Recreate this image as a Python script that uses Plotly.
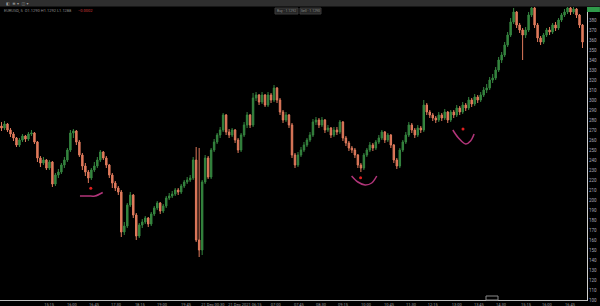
import plotly.graph_objects as go

# ---- data ----
closes = [272, 276, 270, 266, 262, 255, 260, 264, 261, 266, 267, 258, 242, 237, 240, 232, 238, 216, 225, 228,
          235, 240, 250, 267, 269, 258, 245, 234, 228, 222, 230, 234, 240, 248, 242, 235, 225, 217, 212, 208,
          168, 174, 195, 205, 185, 164, 175, 178, 182, 176, 186, 192, 197, 189, 194, 202, 204, 206, 210, 208,
          214, 218, 220, 222, 240, 160, 150, 218, 242, 223, 250, 258, 265, 270, 285, 268, 265, 270, 260, 250,
          265, 275, 285, 275, 302, 305, 298, 305, 295, 305, 300, 312, 300, 288, 280, 285, 275, 245, 235, 245,
          250, 255, 260, 265, 278, 280, 275, 280, 270, 272, 265, 270, 268, 278, 262, 257, 252, 250, 245, 235,
          232, 245, 250, 255, 252, 258, 262, 268, 260, 265, 255, 240, 234, 250, 258, 265, 275, 270, 265, 272,
          270, 295, 288, 285, 282, 280, 285, 282, 288, 280, 288, 285, 292, 288, 295, 292, 300, 296, 303, 300,
          305, 310, 312, 320, 322, 330, 340, 345, 355, 365, 378, 388, 375, 370, 365, 370, 385, 392, 375, 362,
          358, 365, 370, 368, 375, 372, 380, 385, 388, 392, 388, 391, 385, 375, 358]
first_open = 274
highs = [278, 279, 277, 272, 268, 263, 262, 266, 265, 268, 270, 268, 259, 244, 243, 241, 240, 239, 227, 231,
         237, 243, 252, 270, 271, 270, 260, 247, 237, 230, 232, 238, 243, 250, 249, 244, 236, 227, 219, 214,
         210, 178, 197, 208, 206, 187, 177, 181, 184, 183, 188, 194, 199, 198, 196, 204, 207, 209, 212, 212,
         216, 220, 223, 225, 243, 253, 252, 220, 245, 244, 252, 261, 267, 273, 287, 286, 271, 272, 271, 262,
         267, 278, 288, 286, 307, 308, 306, 308, 306, 308, 307, 315, 313, 302, 290, 288, 286, 277, 247, 248,
         253, 258, 262, 268, 281, 283, 282, 283, 281, 275, 273, 273, 273, 280, 279, 264, 259, 254, 252, 246,
         237, 247, 252, 258, 257, 260, 265, 270, 269, 267, 266, 256, 242, 252, 260, 268, 278, 277, 272, 275,
         274, 300, 297, 290, 287, 284, 288, 287, 291, 289, 290, 290, 295, 294, 298, 297, 303, 302, 306, 305,
         308, 313, 316, 323, 326, 333, 343, 348, 358, 368, 382, 392, 389, 377, 372, 373, 388, 396, 393, 377,
         364, 367, 372, 373, 377, 378, 382, 387, 391, 395, 394, 394, 392, 386, 376]
lows = [269, 270, 268, 263, 259, 253, 253, 258, 258, 259, 264, 256, 238, 233, 235, 230, 230, 213, 214, 222,
        226, 232, 238, 248, 262, 255, 243, 230, 224, 217, 220, 228, 232, 238, 240, 232, 222, 212, 209, 205,
        163, 165, 172, 193, 182, 160, 162, 172, 176, 173, 174, 184, 190, 186, 187, 192, 200, 202, 204, 205,
        206, 212, 216, 218, 220, 158, 143, 145, 216, 221, 221, 248, 256, 262, 268, 265, 262, 263, 257, 247,
        248, 263, 272, 272, 273, 299, 295, 296, 293, 293, 297, 298, 297, 285, 277, 278, 272, 242, 232, 233,
        243, 248, 253, 258, 263, 275, 272, 273, 267, 268, 262, 263, 265, 266, 259, 254, 249, 247, 242, 232,
        228, 230, 243, 248, 249, 250, 256, 260, 257, 258, 252, 237, 231, 232, 248, 256, 263, 267, 262, 263,
        267, 268, 285, 282, 279, 277, 278, 279, 280, 277, 278, 282, 283, 285, 286, 289, 290, 293, 294, 297,
        298, 303, 307, 310, 317, 320, 328, 337, 343, 353, 363, 376, 372, 367, 340, 362, 368, 383, 372, 358,
        355, 356, 363, 365, 366, 369, 370, 378, 383, 386, 385, 386, 382, 372, 352]

x_tick_idx = [4.5, 15.9, 23.5, 30.9, 38.2, 46.2, 53.6, 61.6, 70.6, 81.3, 91.6, 99.3,
              106.7, 114, 121.7, 129.4, 136.7, 144, 152, 159.4, 166.8, 175.1, 182.1, 189.8]
x_tick_text = ["20 Dec 2021 14:30", "15:15", "16:00", "16:45", "17:30", "18:15", "19:00", "19:45",
               "21 Dec 00:30", "21 Dec 2021 06:15", "07:00", "07:45", "08:30", "09:15", "10:00",
               "10:45", "11:30", "12:15", "13:00", "13:45", "14:30", "15:15", "16:00", "16:45"]

# hand-drawn marks on the chart (index, price)
curve1_x = [26.2, 29.0, 31.2, 33.8]
curve1_y = [204, 204, 204, 207.5]
curve2_x = [116.9, 119.0, 121.4, 123.6, 125.3]
curve2_y = [224, 218, 215, 217, 224]
curve3_x = [150.7, 152.6, 155.0, 156.6, 157.8]
curve3_y = [270, 262, 256, 259, 266]
dots_x = [29.8, 119.9, 154.1]
dots_y = [211.7, 222.3, 271]

opens = [first_open] + closes[:-1]
idx = list(range(len(closes)))

fig = go.Figure()
fig.add_trace(go.Candlestick(
    x=idx, open=opens, high=highs, low=lows, close=closes,
    increasing=dict(line=dict(color="#35853f", width=1), fillcolor="#35853f"),
    decreasing=dict(line=dict(color="#e07a5c", width=1), fillcolor="#e07a5c"),
    whiskerwidth=0, showlegend=False, hoverinfo="skip"))

for cx, cy in [(curve1_x, curve1_y), (curve2_x, curve2_y), (curve3_x, curve3_y)]:
    fig.add_trace(go.Scatter(x=cx, y=cy, mode="lines",
                             line=dict(color="#b2357a", width=1.5, shape="spline"),
                             showlegend=False, hoverinfo="skip"))
fig.add_trace(go.Scatter(x=dots_x, y=dots_y, mode="markers",
                         marker=dict(color="#e02020", size=3), showlegend=False, hoverinfo="skip"))

PH = 293.0  # plot height in px
PW = 587.0

shapes = [
    # top toolbar
    dict(type="rect", xref="paper", yref="paper", x0=-0.01, x1=1.03, y0=1 + 0.5 / PH, y1=1 + 7.5 / PH,
         fillcolor="#2e2e2e", line=dict(width=0), layer="above"),
    # buttons
    dict(type="rect", xref="paper", yref="paper", x0=275 / PW, x1=298 / PW, y0=1 - 7 / PH, y1=1 - 1 / PH,
         fillcolor="#262626", line=dict(color="#3a3a3a", width=1)),
    dict(type="rect", xref="paper", yref="paper", x0=300 / PW, x1=321 / PW, y0=1 - 7 / PH, y1=1 - 1 / PH,
         fillcolor="#262626", line=dict(color="#3a3a3a", width=1)),
    # small marker box on the time axis
    dict(type="rect", xref="paper", yref="paper", x0=486 / PW, x1=498 / PW, y0=0, y1=4 / PH,
         fillcolor="rgba(0,0,0,0)", line=dict(color="#8a8a8a", width=1)),
    # green price tag top right
    dict(type="rect", xref="paper", yref="paper", x0=1.0, x1=1.022, y0=1 - 5 / PH, y1=1 + 0 / PH,
         fillcolor="#2f9a4a", line=dict(width=0)),
]

annotations = [
    dict(xref="paper", yref="paper", x=2 / PW, y=1 - 4 / PH, xanchor="left", yanchor="middle",
         text="EURUSD, 5  O1.1290 H1.1292 L1.1288", showarrow=False,
         font=dict(size=4, color="#8c8c8c", family="Roboto")),
    dict(xref="paper", yref="paper", x=76 / PW, y=1 - 4 / PH, xanchor="left", yanchor="middle",
         text="−0.0002", showarrow=False, font=dict(size=4, color="#d23a3a", family="Roboto")),
    dict(xref="paper", yref="paper", x=286.5 / PW, y=1 - 4 / PH, xanchor="center", yanchor="middle",
         text="Buy · 1.1292", showarrow=False, font=dict(size=3.5, color="#8a8a8a", family="Roboto")),
    dict(xref="paper", yref="paper", x=310.5 / PW, y=1 - 4 / PH, xanchor="center", yanchor="middle",
         text="Sell · 1.1290", showarrow=False, font=dict(size=3.5, color="#8a8a8a", family="Roboto")),
    dict(xref="paper", yref="paper", x=4 / PW, y=1 + 4 / PH, xanchor="left", yanchor="middle",
         text="◧  ≡ ▾  ◫ ▾", showarrow=False, font=dict(size=4, color="#9a9a9a", family="DejaVu Sans")),
]

fig.update_layout(
    width=600, height=306,
    margin=dict(l=0, r=13, t=7, b=6),
    paper_bgcolor="#000000", plot_bgcolor="#000000",
    shapes=shapes, annotations=annotations,
    xaxis=dict(range=[-0.5, 195.5], tickmode="array", tickvals=x_tick_idx, ticktext=x_tick_text,
               tickfont=dict(size=4, color="#9a9a9a", family="Roboto"), showgrid=False, zeroline=False,
               showline=True, linecolor="#bdbdbd", linewidth=1, ticks="", rangeslider=dict(visible=False),
               fixedrange=True),
    yaxis=dict(range=[100, 393], side="right", dtick=10, tick0=0, showgrid=False, zeroline=False,
               showline=True, linecolor="#cfcfcf", linewidth=1, ticks="",
               tickfont=dict(size=4.5, color="#a8a8b8", family="Roboto"), fixedrange=True),
)

fig.write_html("out.html")
